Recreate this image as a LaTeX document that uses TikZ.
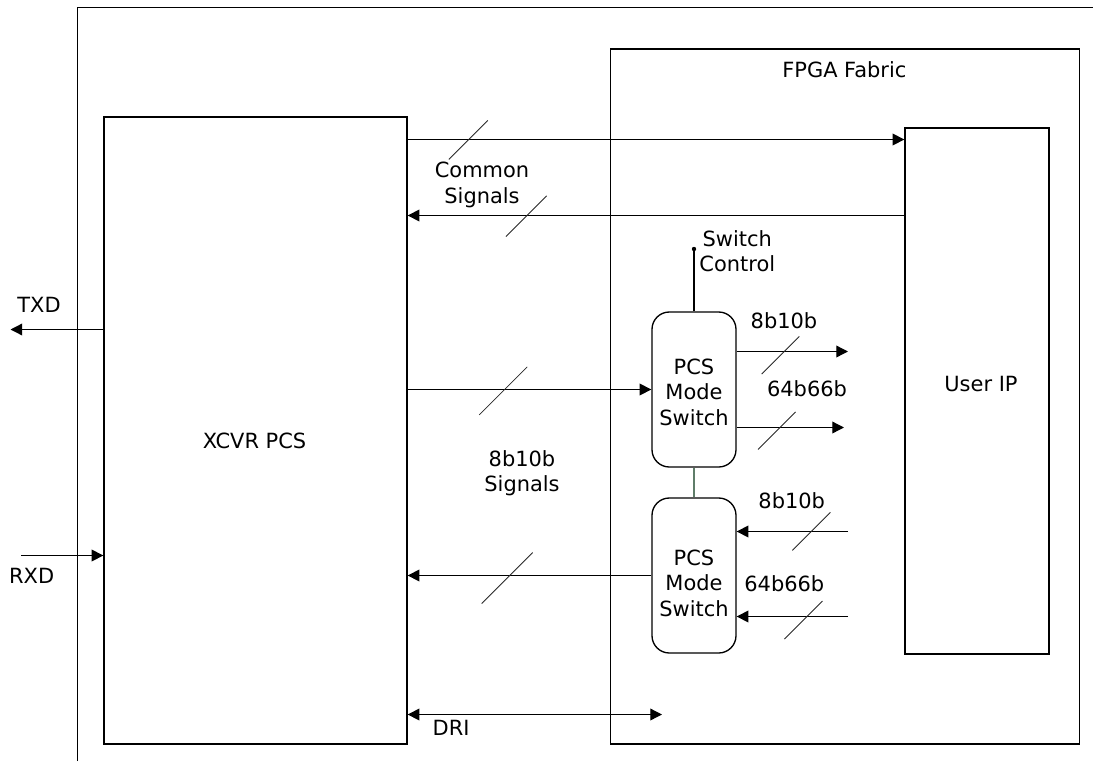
\documentclass[tikz,border=0pt]{standalone}
\usepackage{fontspec}
\setmainfont{DejaVu Sans}
\usetikzlibrary{arrows.meta}

\definecolor{linkgreen}{RGB}{95,125,105}
\definecolor{slashgray}{RGB}{40,40,40}

\tikzset{every picture/.style={line width=1pt}}
\tikzset{
  every node/.append style={font=\fontsize{15.7pt}{19pt}\selectfont},
  block/.style={draw, inner sep=0pt, align=center},
  modesw/.style={block, rounded corners=13pt, minimum width=63pt, minimum height=116.25pt},
  sig/.style={-{Triangle[length=8.8pt,width=8.8pt]}},
  lbl/.style={inner sep=0pt, align=center},
  slash/.style={draw=slashgray, line width=0.6pt},
  pics/bus/.style={code={\draw[slash] (-#1,-#1) -- (#1,#1);}},
}

\begin{document}
\begin{tikzpicture}[x=0.75pt,y=0.75pt,yscale=-1,xscale=1]
\useasboundingbox (0,0) rectangle (1093,761);

%Straight Lines [outer frame]
\draw (77.5,761) -- (77.5,7.5) -- (1093,7.5) ;

%Shape: Rectangle [fabric]
\node[block, minimum width=351.75pt, minimum height=521.25pt] (fabric) at (845,396.5) {};
%Shape: Rectangle [xcvr]
\node[block, minimum width=227.25pt, minimum height=470.25pt] (xcvr) at (255.5,430.5) {};
%Shape: Rectangle [user ip]
\node[block, minimum width=108pt, minimum height=394.5pt] (userip) at (977,391) {};
%Rounded Rect [mode switches]
\node[modesw, text height=53.5pt] (swtx) at (694,389.5) {PCS\\Mode\\Switch};
\node[modesw, text height=61pt] (swrx) at (694,575.5) {PCS\\Mode\\Switch};

%free ends
\coordinate (swctl) at (694,249);
\coordinate (tx8) at (848,351.5);
\coordinate (tx64) at (844,427.5);
\coordinate (rx8) at (848,531.5);
\coordinate (rx64) at (848,616.5);
\coordinate (dri) at (662,714.5);
\coordinate (txd) at (10.5,329.5);
\coordinate (rxd) at (21,555.5);

%Straight Lines [common signals]
\draw[sig] (xcvr.east |- 0,139.5) -- (userip.west |- 0,139.5) ;
\draw[sig] (userip.west |- 0,215.5) -- (xcvr.east |- 0,215.5) ;
%Straight Lines [8b10b signals]
\draw[sig] (xcvr.east |- swtx.west) -- (swtx.west) ;
\draw[sig] (swrx.west) -- (xcvr.east |- swrx.west) ;
%Straight Lines [switch outputs / inputs]
\draw[sig] (swtx.east |- tx8) -- (tx8) ;
\draw[sig] (swtx.east |- tx64) -- (tx64) ;
\draw[sig] (rx8) -- (swrx.east |- rx8) ;
\draw[sig] (rx64) -- (swrx.east |- rx64) ;
%Straight Lines [switch control]
\draw (swtx.north) -- (swctl) ;
\fill (swctl) circle (2.2) ;
\draw[draw=linkgreen] (swtx.south) -- (swrx.north) ;
%Straight Lines [DRI, TXD, RXD]
\draw[{Triangle[length=8.8pt,width=8.8pt]}-{Triangle[length=8.8pt,width=8.8pt]}] (xcvr.east |- dri) -- (dri) ;
\draw[sig] (xcvr.west |- txd) -- (txd) ;
\draw[sig] (rxd) -- (xcvr.west |- rxd) ;

%Bus marks
\pic at (468.3,140) {bus=19.5};
\pic at (526.3,216.2) {bus=20.4};
\pic at (503.2,390.9) {bus=24};
\pic at (780.5,355.3) {bus=18.8};
\pic at (776.8,430.7) {bus=18.8};
\pic at (811.4,531.4) {bus=19};
\pic at (803.5,620) {bus=19};
\pic at (507.2,578) {bus=25.5};

% Text Node
\node[lbl, anchor=base west] (fabriclbl) at (781.7,77.7) {FPGA Fabric};
% Text Node
\node[lbl, anchor=base] (xcvrlbl) at (254.5,448.3) {XCVR PCS};
% Text Node
\node[lbl, anchor=base] (useriplbl) at (981,391.7) {User IP};
% Text Node
\node[lbl, anchor=base] (commonlbl) at (482,203.3) {Common\\Signals};
% Text Node
\node[lbl, anchor=base] (ctrllbl) at (737.3,271.7) {Switch\\Control};
% Text Node
\node[lbl, anchor=base] (tx8lbl) at (784,328.3) {8b10b};
% Text Node
\node[lbl, anchor=base] (tx64lbl) at (807,396.7) {64b66b};
% Text Node
\node[lbl, anchor=base] (sig8lbl) at (522,491.7) {8b10b\\Signals};
% Text Node
\node[lbl, anchor=base] (rx8lbl) at (791.7,508) {8b10b};
% Text Node
\node[lbl, anchor=base] (rx64lbl) at (784.3,591.7) {64b66b};
% Text Node
\node[lbl, anchor=base west] (drilbl) at (432,735) {DRI};
% Text Node
\node[lbl, anchor=base] (txdlbl) at (39,312.7) {TXD};
% Text Node
\node[lbl, anchor=base] (rxdlbl) at (31.7,583.3) {RXD};

\end{tikzpicture}
\end{document}
